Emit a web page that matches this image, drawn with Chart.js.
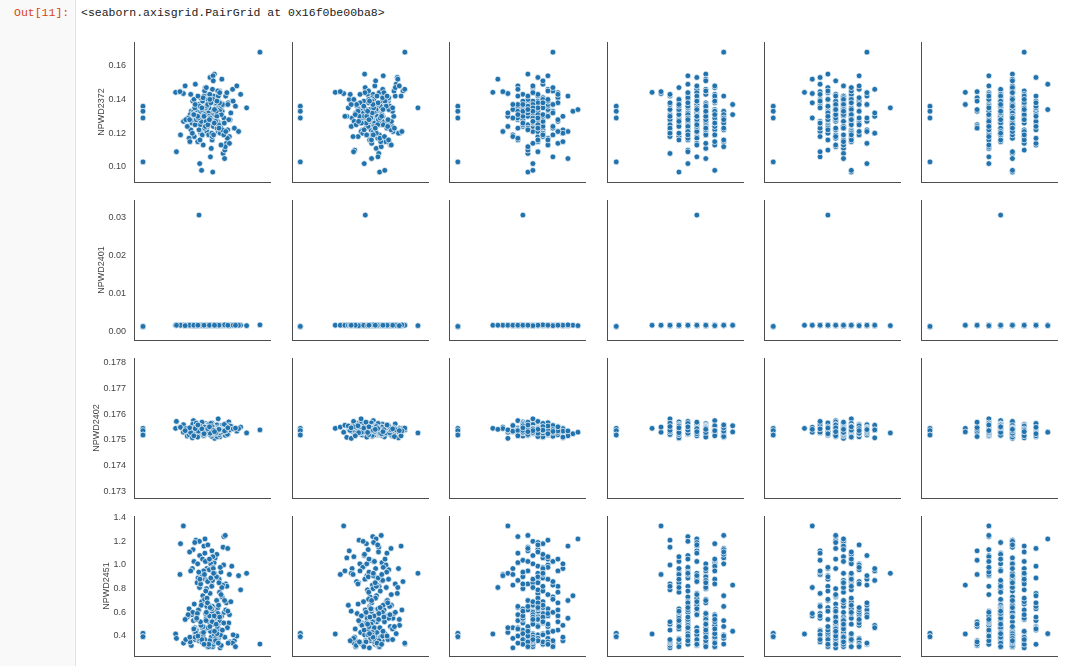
<!DOCTYPE html>
<html>
<head>
<meta charset="utf-8">
<script src="https://cdn.jsdelivr.net/npm/chart.js@4.4.0/dist/chart.umd.min.js"></script>
<style>
  html, body { margin: 0; padding: 0; background: #fff; }
  body { width: 1080px; height: 666px; position: relative; overflow: hidden; }
  #prompt-bg { position: absolute; left: 0; top: 0; width: 75px; height: 666px; background: #f9f9f9; border-right: 1px solid #e2e2e2; }
  .mono { position: absolute; font-family: 'Liberation Mono', 'DejaVu Sans Mono', monospace; font-size: 11.5px; line-height: 15px; white-space: pre; }
  #prompt { left: 14px; top: 5px; color: #d84315; }
  #repr { left: 81px; top: 5px; color: #222; }
  canvas { position: absolute; }
</style>
</head>
<body>
<div id="prompt-bg"></div>
<div id="prompt" class="mono">Out[11]:</div>
<div id="repr" class="mono">&lt;seaborn.axisgrid.PairGrid at 0x16f0be00ba8&gt;</div>
<script>
// y variables (rows of the grid)
const yNames = ['NPWD2372', 'NPWD2401', 'NPWD2402', 'NPWD2451'];
const yTicks = [
    [0.10, 0.12, 0.14, 0.16],
    [0.00, 0.01, 0.02, 0.03],
    [0.173, 0.174, 0.175, 0.176, 0.177, 0.178],
    [0.4, 0.6, 0.8, 1.0, 1.2, 1.4]
];
const yTickLabels = [
    ['0.10', '0.12', '0.14', '0.16'],
    ['0.00', '0.01', '0.02', '0.03'],
    ['0.173', '0.174', '0.175', '0.176', '0.177', '0.178'],
    ['0.4', '0.6', '0.8', '1.0', '1.2', '1.4']
];
const yRanges = [[0.0911, 0.1740], [-0.00218, 0.03466], [0.17274, 0.178186], [0.231, 1.414]];
// x variables (columns) - no tick labels visible, cols 1-2 read as % of panel width
const xRanges = [[0, 100], [0, 100], [-1.766, 25.41], [-1.033, 14.153], [-1.185, 16.237], [-0.762, 10.785]];

const x1 = [6.6, 6.6, 6.6, 6.6, 92.6, 47.8, 30.6, 36.3, 33.8,
    55.2, 48.7, 62.1, 44.3, 58.9, 51.6, 67.4, 41.8, 60.3, 53.5,
    46.9, 64.8, 57.3, 39.2, 70.6, 52.4, 49.1, 61.7, 45.5, 56.8,
    63.9, 42.6, 54.1, 68.3, 50.2, 59.7, 47.4, 73.8, 55.9, 43.7,
    58.2, 65.5, 49.8, 36.4, 61.2, 53.1, 71.9, 46.2, 57.6, 62.8,
    44.9, 52.7, 66.1, 50.9, 78.4, 42.1, 59.3, 55.6, 48.3, 64.2,
    60.8, 47.8, 53.9, 69.7, 45.1, 56.4, 40.5, 63.3, 51.2, 58.6,
    34.2, 62.4, 49.5, 57.1, 66.8, 43.2, 54.7, 72.5, 50.6, 61.9,
    47.1, 59.1, 64.5, 52.1, 41.3, 67.9, 55.4, 45.8, 82.8, 57.9,
    53.3, 63.1, 48.1, 60.1, 70.1, 44.6, 51.9, 58.4, 65.9, 39.8,
    56.2, 46.4, 61.4, 54.4, 68.9, 49.3, 75.6, 42.9, 59.6, 52.8,
    64.1, 50.4, 57.4, 45.3, 62.6, 38.1, 55.1, 67.1, 48.9, 60.6,
    43.9, 53.7, 69.2, 58.1, 46.6, 63.6, 51.4, 56.1, 31.2, 65.2,
    59.9, 47.6, 54.9, 71.2, 44.1, 61.1, 50.1, 57.7, 66.4, 52.2,
    49.7, 62.9, 45.9, 55.7, 76.9, 53.6, 60.9, 41.1, 58.8, 64.6,
    54.6,
    57.0, 50.8, 63.4, 46.1, 59.5, 54.2, 68.7, 43.4, 61.6, 52.0,
    48.2, 66.0, 55.0, 41.7, 62.2, 51.1, 58.0, 70.2, 47.3, 56.5,
    65.0, 44.7, 53.2, 60.0, 49.0, 57.5, 72.9, 46.8, 54.0, 62.0,
    51.8, 59.0, 45.0, 64.0, 55.8, 40.9, 67.5, 50.0, 58.3, 53.0,
    61.0, 48.5, 56.0, 74.6, 52.5, 63.0, 44.0, 57.2, 49.9, 66.6,
    54.3, 60.4, 47.0, 58.5, 69.0, 51.5, 62.5, 37.6, 55.5, 59.2];
const x2 = [6.1, 6.1, 6.1, 6.1, 83.0, 53.9, 31.8, 38.0, 35.5,
    62.4, 55.1, 70.8, 48.6, 66.2, 58.3, 75.9, 51.7, 63.5, 44.2,
    68.9, 57.4, 42.1, 73.6, 60.2, 53.8, 79.1, 65.4, 49.3, 61.9,
    56.6, 71.5, 46.8, 64.1, 58.9, 40.3, 67.7, 54.2, 77.4, 59.8,
    50.5, 63.8, 69.4, 45.7, 61.3, 74.2, 52.9, 66.9, 57.1, 81.6,
    64.7, 47.9, 59.4, 72.3, 55.5, 62.8, 43.6, 68.1, 53.1, 60.7,
    70.1, 58.1, 65.8, 51.2, 76.6, 49.9, 63.1, 56.9, 38.9, 67.3,
    54.7, 61.6, 73.1, 59.1, 46.1, 66.5, 57.8, 82.9, 62.1, 50.8,
    65.1, 53.4, 60.4, 69.8, 48.2, 58.6, 71.1, 55.8, 92.6, 64.4,
    59.6, 67.9, 52.3, 62.6, 44.9, 74.8, 56.3, 61.1, 69.1, 54.0,
    63.2, 48.9, 66.3, 57.6, 72.8, 51.5, 60.9, 78.3, 55.3, 64.9,
    47.2, 68.4, 58.4, 62.3, 53.6, 70.6, 41.4, 65.6, 59.2, 56.1,
    73.9, 61.4, 50.1, 67.1, 63.9, 55.9, 80.2, 58.7, 45.3, 62.7,
    57.3, 69.6, 64.2, 52.6, 60.1, 75.3, 49.6, 66.7, 54.5, 61.8,
    68.2, 56.4, 63.7, 42.8, 59.9, 71.8, 53.3, 65.2, 58.2, 77.8,
    60.5,
    58.0, 66.6, 52.0, 71.2, 60.8, 47.5, 64.6, 56.0, 75.0, 61.0,
    69.3, 54.9, 62.9, 50.0, 67.0, 59.0, 45.5, 72.0, 57.9, 63.3,
    53.0, 60.0, 76.0, 64.0, 48.5, 68.0, 58.8, 55.0, 70.4, 62.5,
    66.0, 51.0, 59.5, 73.0, 56.5, 63.6, 80.8, 54.4, 61.5, 49.0,
    57.0, 71.0, 64.8, 52.8, 60.6, 67.6, 46.5, 62.0, 74.0, 58.5,
    63.0, 55.6, 69.9, 59.8, 43.5, 65.9, 61.2, 78.9, 56.6, 66.9];
const x3 = [0, 0, 0, 0, 19, 13, 7, 10, 9,
    15, 13, 18, 16, 12, 20, 14, 17, 15, 11,
    16, 19, 14, 13, 17, 15, 21, 12, 18, 14,
    13, 16, 15, 20, 11, 17, 14, 19, 16, 12,
    18, 14, 17, 15, 13, 22, 16, 14, 12, 19,
    15, 17, 12, 18, 16, 14, 10, 20, 15, 13,
    14, 21, 16, 13, 17, 15, 18, 11, 14, 16,
    17, 12, 15, 19, 14, 16, 13, 18, 23, 15,
    16, 14, 18, 12, 15, 20, 17, 13, 16, 14,
    13, 17, 15, 16, 11, 14, 19, 15, 18, 12,
    19, 15, 13, 17, 14, 16, 12, 21, 15, 17,
    14, 18, 16, 10, 15, 13, 17, 14, 20, 16,
    12, 16, 14, 18, 15, 17, 22, 13, 16, 11,
    17, 13, 19, 15, 14, 16, 18, 12, 15, 24,
    15, 20, 13, 16, 9, 14, 17, 21, 18, 8,
    10,
    16, 14, 17, 13, 15, 19, 12, 16, 18, 14,
    15, 17, 13, 20, 16, 14, 18, 15, 11, 17,
    14, 16, 19, 15, 13, 17, 15, 21, 16, 12,
    17, 13, 15, 18, 14, 16, 20, 14, 17, 15,
    13, 18, 16, 14, 19, 15, 12, 17, 15, 22,
    16, 15, 14, 17, 13, 18, 16, 15, 20, 14];
const x4 = [0, 0, 0, 0, 12, 9, 4, 5, 5,
    8, 10, 7, 9, 11, 8, 6, 10, 9, 7,
    12, 8, 9, 10, 7, 11, 8, 9, 6, 10,
    7, 9, 11, 8, 10, 12, 7, 8, 9, 11,
    10, 6, 8, 7, 9, 10, 11, 8, 12, 9,
    7, 10, 8, 11, 6, 9, 7, 10, 8, 13,
    9, 11, 10, 7, 8, 12, 9, 6, 10, 8,
    11, 7, 9, 10, 8, 7, 11, 9, 12, 6,
    8, 10, 7, 9, 11, 10, 8, 6, 9, 7,
    10, 12, 8, 11, 7, 9, 10, 8, 6, 11,
    9, 7, 10, 8, 12, 11, 9, 7, 10, 8,
    6, 11, 8, 10, 9, 7, 8, 12, 11, 10,
    7, 9, 6, 8, 10, 11, 9, 7, 8, 13,
    10, 8, 11, 9, 7, 12, 6, 10, 8, 9,
    11, 7, 10, 6, 9, 8, 12, 11, 7, 10,
    8,
    9, 8, 10, 7, 11, 9, 8, 12, 10, 6,
    7, 10, 9, 11, 8, 10, 7, 9, 12, 8,
    10, 9, 7, 8, 11, 6, 9, 10, 8, 11,
    8, 11, 10, 9, 7, 12, 8, 9, 10, 7,
    11, 7, 8, 10, 9, 8, 11, 6, 9, 10,
    9, 10, 12, 8, 7, 9, 10, 11, 8, 9];
const x5 = [0, 0, 0, 0, 12, 7, 4, 5, 6,
    9, 7, 11, 8, 10, 6, 9, 12, 8, 7,
    10, 8, 6, 9, 11, 7, 13, 10, 8, 9,
    6, 11, 9, 7, 8, 10, 12, 9, 6, 8,
    8, 9, 10, 12, 7, 6, 11, 8, 9, 10,
    11, 6, 8, 9, 10, 7, 9, 5, 12, 8,
    7, 10, 9, 8, 6, 11, 10, 8, 13, 9,
    9, 8, 12, 10, 7, 9, 6, 11, 8, 10,
    10, 7, 8, 6, 9, 12, 11, 7, 15, 10,
    8, 11, 9, 10, 6, 8, 7, 9, 11, 12,
    6, 9, 10, 7, 8, 11, 9, 13, 8, 7,
    11, 8, 7, 9, 12, 10, 6, 8, 9, 10,
    9, 10, 8, 11, 5, 7, 9, 10, 6, 12,
    8, 6, 11, 9, 10, 8, 7, 13, 11, 9,
    10, 9, 7, 8, 12, 6, 10, 9, 8, 5,
    13,
    8, 9, 7, 10, 6, 11, 8, 9, 10, 7,
    9, 11, 8, 6, 10, 7, 9, 12, 8, 10,
    7, 8, 10, 9, 11, 8, 6, 10, 9, 12,
    10, 6, 9, 8, 7, 10, 11, 9, 8, 9,
    8, 10, 11, 7, 9, 12, 8, 10, 6, 9,
    11, 9, 8, 10, 8, 7, 9, 11, 10, 8];
const x6 = [0, 0, 0, 0, 8, 6, 3, 5, 4,
    7, 5, 6, 8, 7, 9, 6, 5, 7, 8,
    6, 7, 4, 5, 8, 7, 6, 9, 7, 5,
    8, 6, 7, 5, 6, 7, 8, 4, 9, 6,
    5, 7, 8, 6, 7, 5, 9, 7, 6, 8,
    7, 6, 5, 9, 8, 4, 7, 6, 5, 7,
    6, 8, 7, 5, 10, 6, 7, 8, 5, 9,
    7, 5, 6, 7, 8, 6, 4, 7, 9, 5,
    8, 7, 5, 6, 7, 9, 6, 5, 8, 7,
    6, 9, 7, 8, 5, 7, 6, 4, 7, 6,
    5, 7, 8, 6, 9, 5, 7, 8, 6, 7,
    7, 6, 5, 8, 7, 6, 9, 5, 4, 8,
    6, 8, 7, 5, 6, 7, 8, 9, 7, 3,
    9, 5, 6, 7, 8, 4, 7, 6, 5, 10,
    7, 6, 8, 5, 7, 9, 6, 8, 4, 7,
    6,
    6, 7, 5, 8, 6, 7, 9, 5, 7, 6,
    7, 5, 8, 6, 7, 6, 5, 8, 7, 9,
    5, 6, 7, 7, 8, 5, 6, 7, 9, 6,
    8, 7, 6, 5, 7, 8, 6, 4, 7, 5,
    6, 8, 7, 6, 5, 7, 9, 6, 8, 7,
    7, 6, 5, 8, 6, 9, 7, 5, 6, 8];

const y1 = [0.136, 0.133, 0.129, 0.103, 0.168, 0.130, 0.1442, 0.1435, 0.1446,
    0.131, 0.125, 0.139, 0.118, 0.134, 0.127, 0.142, 0.122, 0.136, 0.129,
    0.115, 0.133, 0.140, 0.124, 0.128, 0.147, 0.120, 0.135, 0.131, 0.111,
    0.138, 0.126, 0.132, 0.144, 0.119, 0.130, 0.137, 0.123, 0.153, 0.128,
    0.134, 0.108, 0.141, 0.127, 0.132, 0.121, 0.139, 0.130, 0.116, 0.145,
    0.125, 0.136, 0.129, 0.113, 0.143, 0.133, 0.124, 0.138, 0.102, 0.131,
    0.140, 0.122, 0.135, 0.128, 0.149, 0.126, 0.117, 0.134, 0.130, 0.142,
    0.119, 0.137, 0.127, 0.132, 0.110, 0.139, 0.125, 0.146, 0.133, 0.121,
    0.129, 0.155, 0.136, 0.123, 0.131, 0.114, 0.141, 0.128, 0.135, 0.097,
    0.143, 0.126, 0.132, 0.138, 0.118, 0.130, 0.145, 0.124, 0.137, 0.129,
    0.106, 0.134, 0.127, 0.140, 0.122, 0.133, 0.148, 0.120, 0.131, 0.136,
    0.125, 0.139, 0.116, 0.130, 0.144, 0.128, 0.135, 0.112, 0.141, 0.126,
    0.133, 0.121, 0.138, 0.154, 0.129, 0.124, 0.142, 0.131, 0.109, 0.137,
    0.127, 0.135, 0.119, 0.132, 0.140, 0.123, 0.130, 0.146, 0.126, 0.134,
    0.098, 0.138, 0.128, 0.143, 0.121, 0.136, 0.130, 0.115, 0.139, 0.152,
    0.132,
    0.128, 0.141, 0.120, 0.134, 0.126, 0.137, 0.117, 0.131, 0.145, 0.123,
    0.136, 0.119, 0.130, 0.143, 0.125, 0.132, 0.140, 0.114, 0.129, 0.138,
    0.122, 0.135, 0.147, 0.127, 0.133, 0.118, 0.139, 0.130, 0.124, 0.142,
    0.131, 0.126, 0.137, 0.113, 0.140, 0.128, 0.121, 0.134, 0.151, 0.127,
    0.139, 0.116, 0.129, 0.136, 0.124, 0.144, 0.131, 0.120, 0.135, 0.105,
    0.125, 0.133, 0.142, 0.119, 0.137, 0.130, 0.123, 0.148, 0.128, 0.134];
const y2 = [0.0014, 0.0014, 0.0014, 0.0014, 0.0018, 0.0307, 0.0017, 0.0017, 0.0017,
    0.0017, 0.0017, 0.0016, 0.0017, 0.0017, 0.0018, 0.0017, 0.0017, 0.0017, 0.0016,
    0.0017, 0.0017, 0.0017, 0.0018, 0.0017, 0.0017, 0.0016, 0.0017, 0.0017, 0.0017,
    0.0018, 0.0017, 0.0017, 0.0017, 0.0016, 0.0017, 0.0017, 0.0017, 0.0018, 0.0017,
    0.0017, 0.0016, 0.0017, 0.0017, 0.0017, 0.0017, 0.0018, 0.0017, 0.0017, 0.0017,
    0.0017, 0.0017, 0.0018, 0.0016, 0.0017, 0.0017, 0.0017, 0.0017, 0.0016, 0.0017,
    0.0016, 0.0017, 0.0017, 0.0017, 0.0018, 0.0017, 0.0017, 0.0016, 0.0017, 0.0017,
    0.0017, 0.0018, 0.0017, 0.0017, 0.0017, 0.0016, 0.0017, 0.0017, 0.0017, 0.0018,
    0.0017, 0.0017, 0.0016, 0.0017, 0.0018, 0.0017, 0.0017, 0.0017, 0.0016, 0.0017,
    0.0018, 0.0017, 0.0017, 0.0016, 0.0017, 0.0017, 0.0018, 0.0017, 0.0017, 0.0017,
    0.0017, 0.0016, 0.0017, 0.0017, 0.0017, 0.0018, 0.0017, 0.0016, 0.0017, 0.0017,
    0.0017, 0.0017, 0.0018, 0.0017, 0.0016, 0.0017, 0.0017, 0.0017, 0.0018, 0.0017,
    0.0016, 0.0017, 0.0017, 0.0018, 0.0017, 0.0017, 0.0016, 0.0017, 0.0017, 0.0017,
    0.0017, 0.0018, 0.0017, 0.0017, 0.0016, 0.0017, 0.0017, 0.0018, 0.0017, 0.0016,
    0.0017, 0.0017, 0.0016, 0.0017, 0.0017, 0.0018, 0.0017, 0.0017, 0.0017, 0.0017,
    0.0017,
    0.0017, 0.0017, 0.0017, 0.0016, 0.0017, 0.0017, 0.0018, 0.0017, 0.0017, 0.0017,
    0.0016, 0.0017, 0.0017, 0.0017, 0.0018, 0.0017, 0.0017, 0.0016, 0.0017, 0.0017,
    0.0017, 0.0018, 0.0017, 0.0017, 0.0017, 0.0016, 0.0017, 0.0017, 0.0018, 0.0017,
    0.0017, 0.0017, 0.0016, 0.0017, 0.0017, 0.0017, 0.0018, 0.0017, 0.0017, 0.0016,
    0.0018, 0.0017, 0.0017, 0.0017, 0.0016, 0.0017, 0.0017, 0.0017, 0.0017, 0.0018,
    0.0017, 0.0016, 0.0017, 0.0018, 0.0017, 0.0017, 0.0017, 0.0016, 0.0017, 0.0017];
const y3 = [0.17545, 0.17536, 0.17519, 0.17519, 0.17539, 0.17540, 0.17545, 0.17530, 0.17550,
    0.17542, 0.17531, 0.17556, 0.17524, 0.17548, 0.17537, 0.17562, 0.17519, 0.17545, 0.17533,
    0.17528, 0.17551, 0.17540, 0.17515, 0.17558, 0.17535, 0.17546, 0.17522, 0.17567, 0.17539,
    0.17533, 0.17544, 0.17526, 0.17553, 0.17538, 0.17510, 0.17549, 0.17541, 0.17530, 0.17575,
    0.17547, 0.17521, 0.17536, 0.17559, 0.17543, 0.17529, 0.17552, 0.17534, 0.17517, 0.17545,
    0.17538, 0.17563, 0.17527, 0.17541, 0.17550, 0.17532, 0.17506, 0.17547, 0.17539, 0.17555,
    0.17525, 0.17544, 0.17536, 0.17570, 0.17531, 0.17548, 0.17520, 0.17540, 0.17557, 0.17534,
    0.17549, 0.17528, 0.17543, 0.17514, 0.17537, 0.17561, 0.17532, 0.17546, 0.17524, 0.17582,
    0.17536, 0.17553, 0.17519, 0.17542, 0.17530, 0.17549, 0.17539, 0.17565, 0.17527, 0.17544,
    0.17541, 0.17512, 0.17547, 0.17535, 0.17556, 0.17523, 0.17538, 0.17550, 0.17533, 0.17545,
    0.17529, 0.17546, 0.17538, 0.17559, 0.17521, 0.17543, 0.17534, 0.17508, 0.17552, 0.17540,
    0.17548, 0.17532, 0.17566, 0.17537, 0.17526, 0.17544, 0.17554, 0.17518, 0.17541, 0.17536,
    0.17533, 0.17557, 0.17542, 0.17523, 0.17549, 0.17538, 0.17516, 0.17545, 0.17572, 0.17531,
    0.17546, 0.17527, 0.17540, 0.17553, 0.17535, 0.17513, 0.17547, 0.17539, 0.17560, 0.17530,
    0.17542, 0.17520, 0.17551, 0.17537, 0.17544, 0.17528, 0.17558, 0.17534, 0.17548, 0.17541,
    0.17539,
    0.17538, 0.17550, 0.17527, 0.17544, 0.17533, 0.17556, 0.17522, 0.17541, 0.17547, 0.17531,
    0.17545, 0.17536, 0.17560, 0.17529, 0.17542, 0.17518, 0.17551, 0.17539, 0.17534, 0.17564,
    0.17532, 0.17548, 0.17540, 0.17525, 0.17555, 0.17537, 0.17543, 0.17511, 0.17549, 0.17536,
    0.17550, 0.17530, 0.17544, 0.17539, 0.17521, 0.17547, 0.17535, 0.17569, 0.17541, 0.17528,
    0.17537, 0.17554, 0.17526, 0.17546, 0.17533, 0.17540, 0.17516, 0.17552, 0.17543, 0.17535,
    0.17544, 0.17529, 0.17558, 0.17538, 0.17547, 0.17524, 0.17541, 0.17536, 0.17551, 0.17532];
const y4 = [0.423, 0.423, 0.394, 0.394, 0.332, 0.62, 0.417, 1.33, 0.92,
    0.52, 0.91, 0.38, 0.67, 1.02, 0.45, 0.84, 0.33, 0.61, 0.97,
    0.41, 0.73, 1.12, 0.56, 0.35, 0.88, 0.49, 0.64, 1.21, 0.39,
    0.94, 0.58, 0.31, 0.82, 0.47, 1.06, 0.62, 0.36, 0.76, 0.53,
    0.43, 1.15, 0.69, 0.34, 0.90, 0.55, 0.99, 0.40, 0.65, 0.86,
    0.37, 0.59, 1.24, 0.48, 0.79, 0.32, 0.93, 0.57, 1.08, 0.44,
    0.70, 0.36, 0.87, 0.51, 0.42, 1.01, 0.63, 0.30, 0.95, 0.54,
    1.18, 0.46, 0.66, 0.83, 0.39, 0.60, 1.04, 0.34, 0.74, 0.50,
    0.89, 0.41, 0.57, 1.10, 0.35, 0.68, 0.96, 0.45, 0.93, 0.31,
    0.80, 0.53, 1.20, 0.38, 0.92, 0.47, 0.71, 0.33, 1.00, 0.58,
    0.44, 0.85, 0.36, 0.64, 1.14, 0.49, 0.40, 0.97, 0.55, 0.78,
    0.32, 1.05, 0.61, 0.43, 0.88, 0.37, 0.66, 1.25, 0.52, 0.90,
    0.46, 0.72, 0.34, 0.98, 0.59, 0.41, 1.16, 0.63, 0.38, 0.83,
    0.56, 0.94, 0.31, 0.69, 1.03, 0.48, 0.35, 0.87, 0.60, 1.22,
    0.42, 0.77, 0.54, 0.36, 0.91, 0.65, 1.09, 0.39, 0.50, 0.81,
    0.47,
    0.63, 0.40, 0.98, 0.55, 0.35, 0.86, 0.47, 1.13, 0.59, 0.37,
    0.81, 0.51, 0.33, 0.95, 0.66, 0.43, 1.07, 0.58, 0.38, 0.89,
    0.45, 1.19, 0.60, 0.36, 0.84, 0.52, 0.41, 1.01, 0.68, 0.34,
    0.92, 0.57, 0.39, 0.75, 0.48, 1.11, 0.62, 0.35, 0.97, 0.53,
    0.42, 0.88, 0.64, 0.31, 1.03, 0.56, 0.46, 0.82, 0.37, 0.70,
    1.17, 0.50, 0.40, 0.93, 0.61, 0.33, 0.85, 0.54, 1.05, 0.44];

const xs = [x1, x2, x3, x4, x5, x6];
const ys = [y1, y2, y3, y4];

// Grid geometry (plot area of each panel)
const colLeft = [134, 292, 449, 607, 764, 921];
const rowTop = [42, 200, 358, 516];
const W = 136, H = 140;
const PADL = 64, PADT = 8, PADR = 8, PADB = 8;
const TICK_PAD = 8;
const BLUE = '#2273ad';
const SPINE = '#4d4d4d';
const TEXT = '#444';

Chart.defaults.font.family = '"Liberation Sans", Arial, sans-serif';
Chart.defaults.font.size = 9;
Chart.defaults.color = TEXT;

const measureCtx = document.createElement('canvas').getContext('2d');
measureCtx.font = '9px "Liberation Sans"';

// push the rotated y title so it sits just left of the widest tick label
function titlePadding(labels) {
    const w = Math.max(...labels.map(t => measureCtx.measureText(t).width));
    return Math.max(0, PADL - TICK_PAD - w - 7 - 5.4);
}

function makePanel(r, c) {
    const canvas = document.createElement('canvas');
    canvas.width = PADL + W + PADR;
    canvas.height = PADT + H + PADB;
    canvas.style.left = (colLeft[c] - PADL) + 'px';
    canvas.style.top = (rowTop[r] - PADT) + 'px';
    document.body.appendChild(canvas);

    const first = c === 0;
    const points = xs[c].map((x, i) => ({ x: x, y: ys[r][i] }));

    new Chart(canvas, {
        type: 'scatter',
        data: {
            datasets: [{
                data: points,
                pointRadius: 2.9,
                pointBackgroundColor: BLUE,
                pointBorderColor: '#ffffff',
                pointBorderWidth: 0.7
            }]
        },
        options: {
            responsive: false,
            animation: false,
            devicePixelRatio: 1,
            events: [],
            layout: { padding: { left: 0, top: PADT, right: PADR, bottom: PADB } },
            plugins: { legend: { display: false }, tooltip: { enabled: false } },
            scales: {
                x: {
                    type: 'linear',
                    min: xRanges[c][0],
                    max: xRanges[c][1],
                    grid: { display: false, drawTicks: false },
                    border: { color: SPINE, width: 1 },
                    ticks: { display: false },
                    afterFit: s => { s.height = 0; s.paddingLeft = 0; s.paddingRight = 0; }
                },
                y: {
                    type: 'linear',
                    min: yRanges[r][0],
                    max: yRanges[r][1],
                    grid: { display: false, drawTicks: false },
                    border: { color: SPINE, width: 1 },
                    afterBuildTicks: s => { s.ticks = yTicks[r].map(v => ({ value: v })); },
                    ticks: {
                        display: first,
                        autoSkip: false,
                        padding: TICK_PAD,
                        color: TEXT,
                        callback: (v, i) => yTickLabels[r][i]
                    },
                    title: {
                        display: first,
                        text: yNames[r],
                        color: TEXT,
                        padding: { top: titlePadding(yTickLabels[r]), bottom: 0 }
                    },
                    // fixed width and no label overflow so every panel keeps the same plot box
                    afterFit: s => { s.width = PADL; s.paddingTop = 0; s.paddingBottom = 0; }
                }
            }
        }
    });
}

for (let r = 0; r < ys.length; r++) {
    for (let c = 0; c < xs.length; c++) {
        makePanel(r, c);
    }
}
</script>
</body>
</html>
